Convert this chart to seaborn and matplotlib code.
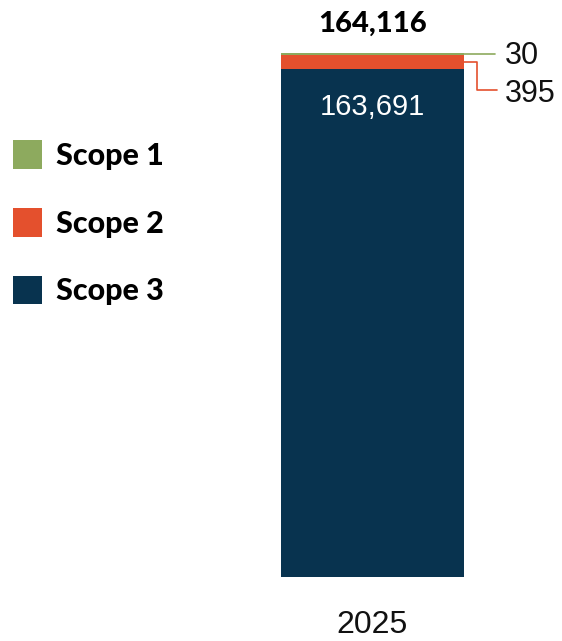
import matplotlib
matplotlib.use("Agg")
import matplotlib.pyplot as plt
import matplotlib.transforms as mtransforms
from matplotlib.patches import Patch
import seaborn as sns
import pandas as pd

# ---- data ----
years = ["2025"]
scopes = ["Scope 1", "Scope 2", "Scope 3"]
scope1 = [30]
scope2 = [395]
scope3 = [163691]
totals = [164116]

# ---- style ----
colors = {"Scope 1": "#8DAA5E", "Scope 2": "#E4502D", "Scope 3": "#08334F"}
# small segments are drawn with a minimum visible share of the bar (not to scale)
min_share = {"Scope 1": 0.0038, "Scope 2": 0.0286, "Scope 3": 0.0}
num_font = "Liberation Sans"
heavy_font = ["Lato", "DejaVu Sans"]

sns.set_theme(style="white")
plt.rcParams["font.family"] = ["DejaVu Sans"]

W, H = 562, 641
fig = plt.figure(figsize=(W / 100, H / 100), dpi=100)
ax = fig.add_axes([281 / W, (H - 577) / H, 183 / W, 524 / H])

vals = {"Scope 1": scope1[0], "Scope 2": scope2[0], "Scope 3": scope3[0]}
total = sum(vals.values())
shown = {k: max(v, min_share[k] * total) for k, v in vals.items()}

cum3 = shown["Scope 3"]
cum2 = cum3 + shown["Scope 2"]
cum1 = cum2 + shown["Scope 1"]

layers = [("Scope 1", cum1), ("Scope 2", cum2), ("Scope 3", cum3)]
for name, top in layers:
    df = pd.DataFrame({"year": years, "value": [top]})
    sns.barplot(data=df, x="year", y="value", color=colors[name], width=1.0,
                saturation=1, ax=ax, linewidth=0)

ax.set_xlim(-0.5, 0.5)
ax.set_ylim(0, cum1)
for s in ax.spines.values():
    s.set_visible(False)
ax.set_yticks([])
ax.set_ylabel("")
ax.set_xlabel("")
ax.tick_params(axis="x", length=0)
ax.set_xticklabels([])

def px_off(dy):
    return mtransforms.offset_copy(ax.transData, fig=fig, y=dy, units="dots")

def ax_frac(ypix):
    return (577 - ypix) / 524

blend = mtransforms.blended_transform_factory(ax.transAxes, ax.transData)
blend_xd_ya = mtransforms.blended_transform_factory(ax.transData, ax.transAxes)

# category label
ax.text(0, ax_frac(633), years[0], ha="center", va="baseline", fontsize=23,
        fontfamily=num_font, color="#111111", transform=blend_xd_ya)

# total label
ax.text(0, cum1, f"{totals[0]:,}", ha="center", va="baseline", fontsize=21,
        fontweight=900, fontfamily=heavy_font, color="black",
        transform=px_off(21))

# scope 3 label inside bar
ax.text(0, cum3, f"{scope3[0]:,}", ha="center", va="baseline", fontsize=21,
        fontfamily=num_font, color="white", transform=px_off(-46))

# scope 1 connector
y1 = cum1 - shown["Scope 1"] / 2
ax.plot([0.95, 1.17], [y1, y1], color=colors["Scope 1"], lw=1.2,
        transform=blend, clip_on=False)
ax.text(1.225, ax_frac(64), f"{scope1[0]:,}", ha="left", va="baseline",
        fontsize=22, fontfamily=num_font, color="#111111",
        transform=ax.transAxes)

# scope 2 connector
y2 = cum3 + shown["Scope 2"] / 2
y2lab = ax_frac(90) * cum1
ax.plot([1.0, 1.071, 1.071, 1.18], [y2, y2, y2lab, y2lab],
        color=colors["Scope 2"], lw=1.2, transform=blend, clip_on=False)
ax.text(1.225, ax_frac(102), f"{scope2[0]:,}", ha="left", va="baseline",
        fontsize=22, fontfamily=num_font, color="#111111",
        transform=ax.transAxes)

# legend
handles = [Patch(facecolor=colors[s], edgecolor="none", label=s) for s in scopes]
leg = fig.legend(handles=handles, loc="upper left",
                 bbox_to_anchor=(13 / W, 1 - 140 / H), frameon=False,
                 borderpad=0, borderaxespad=0, handlelength=0.95,
                 handleheight=1.08, handletextpad=0.46, labelspacing=1.24,
                 prop={"family": heavy_font, "weight": 900, "size": 22})
for t in leg.get_texts():
    t.set_color("black")

fig.savefig("out.png", dpi=100, facecolor="white")
